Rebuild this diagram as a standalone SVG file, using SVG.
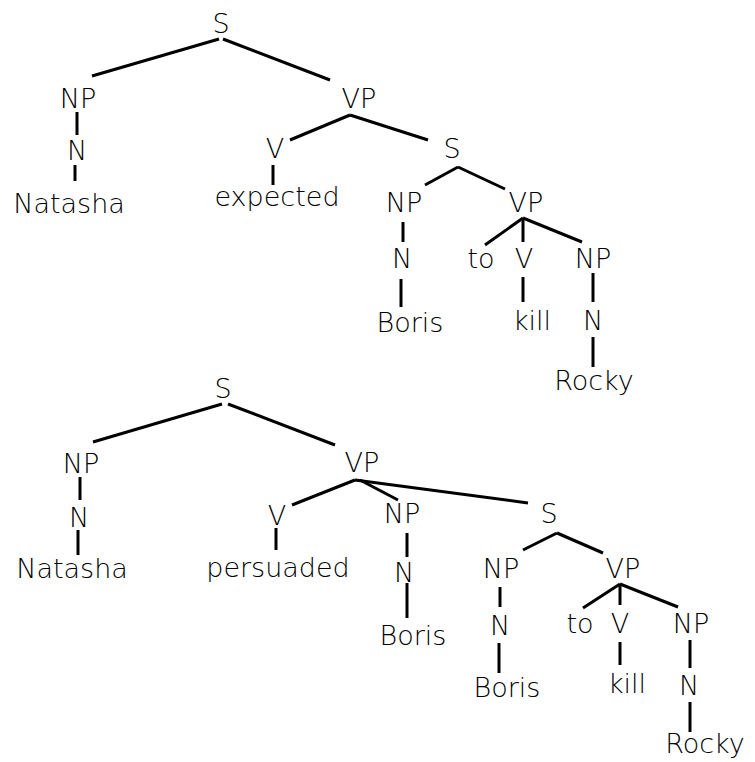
<svg xmlns="http://www.w3.org/2000/svg" width="755" height="762" viewBox="0 0 755 762">
<style>
text{font-family:"DejaVu Sans","Liberation Sans",Arial,sans-serif;font-weight:200;font-size:27px;fill:#000;text-anchor:middle}
.e line{stroke:#000;stroke-width:3;stroke-linecap:butt}
</style>
<rect width="755" height="762" fill="#fff"/>
<g class="e" id="connectors">
<line x1="219" y1="39" x2="92" y2="76"/>
<line x1="223" y1="39" x2="330" y2="80"/>
<line x1="77" y1="112" x2="77" y2="135"/>
<line x1="75" y1="165" x2="75" y2="181"/>
<line x1="350" y1="115" x2="290" y2="140"/>
<line x1="350" y1="115" x2="428" y2="140"/>
<line x1="273" y1="165" x2="273" y2="185"/>
<line x1="458" y1="167" x2="425" y2="185"/>
<line x1="458" y1="167" x2="505" y2="189"/>
<line x1="403" y1="222" x2="403" y2="242"/>
<line x1="401" y1="279" x2="401" y2="307"/>
<line x1="523" y1="218" x2="485" y2="245"/>
<line x1="523" y1="218" x2="523" y2="242"/>
<line x1="523" y1="218" x2="582" y2="242"/>
<line x1="523" y1="277" x2="523" y2="302"/>
<line x1="593" y1="273" x2="593" y2="302"/>
<line x1="593" y1="337" x2="593" y2="367"/>
<line x1="222" y1="404" x2="93" y2="442"/>
<line x1="228" y1="404" x2="335" y2="445"/>
<line x1="80" y1="477" x2="80" y2="500"/>
<line x1="78" y1="530" x2="78" y2="555"/>
<line x1="355" y1="480" x2="292" y2="505"/>
<line x1="360" y1="480" x2="398" y2="500"/>
<line x1="355" y1="480" x2="528" y2="503"/>
<line x1="276" y1="528" x2="276" y2="550"/>
<line x1="407" y1="533" x2="407" y2="557"/>
<line x1="407" y1="583" x2="407" y2="618"/>
<line x1="557" y1="533" x2="523" y2="550"/>
<line x1="557" y1="533" x2="603" y2="553"/>
<line x1="500" y1="587" x2="500" y2="607"/>
<line x1="499" y1="643" x2="499" y2="673"/>
<line x1="620" y1="584" x2="583" y2="608"/>
<line x1="620" y1="584" x2="620" y2="605"/>
<line x1="620" y1="584" x2="678" y2="607"/>
<line x1="620" y1="642" x2="620" y2="665"/>
<line x1="690" y1="640" x2="690" y2="668"/>
<line x1="690" y1="702" x2="690" y2="732"/>
</g>
<g id="t1-S"><text x="221" y="33">S</text></g>
<g id="t1-NP"><text x="78" y="108">NP</text></g>
<g id="t1-N"><text x="77" y="160">N</text></g>
<g id="t1-Natasha"><text x="69" y="213">Natasha</text></g>
<g id="t1-VP"><text x="359" y="108">VP</text></g>
<g id="t1-V"><text x="275" y="158">V</text></g>
<g id="t1-expected"><text x="277" y="206">expected</text></g>
<g id="t1-S2"><text x="452" y="158">S</text></g>
<g id="t1-NP2"><text x="404" y="212">NP</text></g>
<g id="t1-N2"><text x="402" y="268">N</text></g>
<g id="t1-Boris"><text x="410" y="332">Boris</text></g>
<g id="t1-VP2"><text x="526" y="212">VP</text></g>
<g id="t1-to"><text x="481" y="268">to</text></g>
<g id="t1-V2"><text x="524" y="268">V</text></g>
<g id="t1-kill"><text x="532" y="330">kill</text></g>
<g id="t1-NP3"><text x="593" y="268">NP</text></g>
<g id="t1-N3"><text x="593" y="330">N</text></g>
<g id="t1-Rocky"><text x="594" y="390">Rocky</text></g>
<g id="t2-S"><text x="223" y="398">S</text></g>
<g id="t2-NP"><text x="81" y="473">NP</text></g>
<g id="t2-N"><text x="79" y="527">N</text></g>
<g id="t2-Natasha"><text x="72" y="578">Natasha</text></g>
<g id="t2-VP"><text x="362" y="472">VP</text></g>
<g id="t2-V"><text x="277" y="525">V</text></g>
<g id="t2-persuaded"><text x="278" y="577">persuaded</text></g>
<g id="t2-NP2"><text x="402" y="523">NP</text></g>
<g id="t2-N2"><text x="404" y="582">N</text></g>
<g id="t2-Boris"><text x="413" y="645">Boris</text></g>
<g id="t2-S2"><text x="549" y="523">S</text></g>
<g id="t2-NP3"><text x="501" y="578">NP</text></g>
<g id="t2-N3"><text x="500" y="635">N</text></g>
<g id="t2-Boris2"><text x="507" y="697">Boris</text></g>
<g id="t2-VP2"><text x="623" y="578">VP</text></g>
<g id="t2-to"><text x="580" y="633">to</text></g>
<g id="t2-V2"><text x="620" y="633">V</text></g>
<g id="t2-kill"><text x="627" y="693">kill</text></g>
<g id="t2-NP4"><text x="691" y="633">NP</text></g>
<g id="t2-N4"><text x="689" y="695">N</text></g>
<g id="t2-Rocky"><text x="705" y="753">Rocky</text></g>
</svg>
